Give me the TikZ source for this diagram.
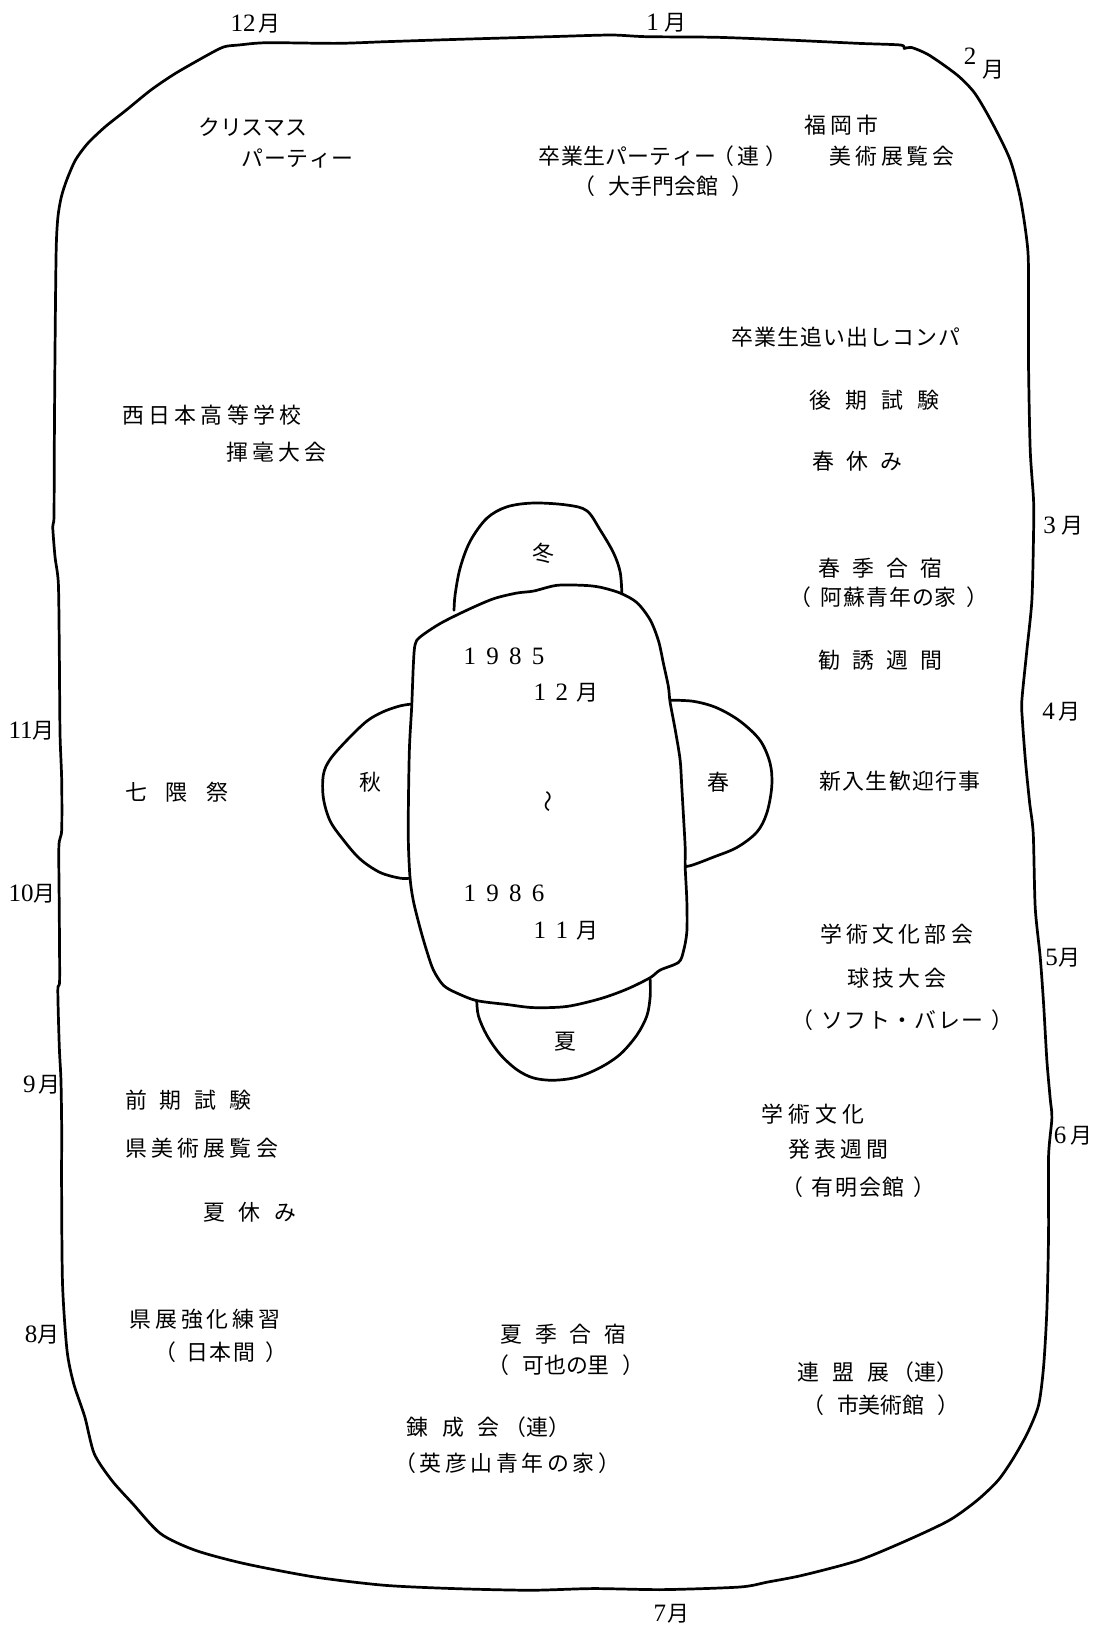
\documentclass[tikz,border=0pt]{standalone}
\usepackage{fontspec}
\setmainfont{Noto Sans CJK JP}
\newfontfamily\digfont{Liberation Serif}
\newdimen\lsgap
\def\ls#1{\lsfirst#1\relax}
\def\lsfirst#1{#1\lsnext}
\def\lsnext#1{\ifx#1\relax\else\hspace{\lsgap}#1\expandafter\lsnext\fi}
\newcommand\G[2]{{\lsgap=#1pt\relax\ls{#2}}}
\newcommand\PW[3]{（\hspace{#1pt}\G{#2}{#3}\hspace{#1pt}）}
\newcommand\D[1]{{\digfont\fontsize{24}{24}\selectfont #1}}
\newcommand\fs{\fontsize{21}{21}\selectfont}
\tikzset{
  lbl/.style={inner sep=0pt, anchor=west, text height=18.5pt, text depth=2.5pt, font=\fs},
  ctr/.style={inner sep=0pt, anchor=center, text height=18.5pt, text depth=2.5pt, font=\fs},
  outline/.style={line width=2.6pt, line join=round, line cap=round}
}
\begin{document}
\begin{tikzpicture}[x=1pt,y=-1pt]
\path[use as bounding box] (0,0) rectangle (1050,1568);

% outer boundary
\draw[outline] plot[smooth cycle, tension=0.45] coordinates {
(215.5,44.8)(229,43.2)(255.9,41)(323.3,41.6)(370.4,40)(437.8,37.8)(528,35.2)(586.1,33.6)(620,35.2)(687.9,35.8)(755.7,38.4)(823.5,41.6)(864.2,43.2)(867.6,46.5)(874.4,45.5)(891.4,52.8)(918.5,72)(935.5,89.6)(952.4,118.4)(969.4,153.6)(979.5,192)(986.3,240)(987,287.9)(987,351.9)(988.6,431.9)(991.8,479.9)(991.8,511.9)(990.2,575.8)(985.4,623.8)(980.6,671.8)(981,690)(984,730)(988,770)(991.5,800)(993.4,870.9)(998.2,918.6)(1001.4,962.7)(1004.6,1017.8)(1007.8,1054.6)(1009.4,1072.9)(1006.2,1109.6)(1006.2,1183.1)(1004.6,1256.6)(1001.4,1311.7)(996.6,1348.4)(986,1375)(972,1400)(957.8,1420.5)(937.7,1439.7)(910.9,1458.9)(870.7,1478)(823.9,1497.3)(770.3,1511.6)(736.8,1518.1)(710,1522.9)(636.3,1525.4)(569.3,1524.4)(509,1526)(435.4,1524.4)(368.4,1521.2)(301.4,1513.2)(234.4,1500.4)(187.5,1487.7)(154.1,1471.7)(127.3,1442.9)(107.2,1420.5)(90.4,1394.9)(81.4,1359.7)(70.7,1327.7)(64.3,1295.7)(60,1231.8)(59.1,1135.8)(59.2,1084.5)(58.5,1036.5)(56.9,1004.5)(55.5,950.2)(57.2,940.6)(56.9,876.6)(56.5,812.6)(59.2,796.6)(59.2,748.6)(57.6,703.8)(56.9,623.8)(56,559.9)(52.8,534.3)(50.6,505.5)(51.8,495.9)(52.1,431.9)(52.8,335.9)(53.9,240)(55.6,208)(58.9,188.8)(64,172.8)(72.4,153.6)(84.2,137.6)(101,121.6)(121.2,105.6)(144.8,86.4)(168.4,70.4)(202.1,51.2)};

% central body
\draw[outline] plot[smooth cycle, tension=0.5] coordinates {
(398.3,618.6)(403.1,611.3)(422.3,598.4)(447.9,585.6)(473.5,574.6)(495.9,569.1)(511.9,567.2)(534.3,561.7)(559.9,561.7)(575.9,563.5)(595.1,569.1)(611.1,578.2)(623.9,594.8)(631.9,615)(636.7,637)(641.4,659)(643,673.7)(647.8,699.5)(652.6,728.8)(654.2,754.5)(655.9,783.9)(657.5,813.3)(657.5,831.7)(659.1,864.7)(659.1,894.1)(655.9,912.5)(651.1,923.5)(633.4,930.9)(623.9,938.2)(601.5,949.2)(575.9,958.4)(543.9,965.8)(511.9,966.9)(486.3,963.9)(457.5,960.2)(438.3,952.9)(425.5,945.5)(415.9,930.9)(409.5,912.5)(403.1,890.5)(396.7,864.7)(393.5,842.7)(391.9,809.6)(391.9,772.9)(392.9,717.8)(395.1,677.4)(396.7,637)};

% winter lobe
\draw[outline] plot[smooth, tension=0.55] coordinates {
(435.7,585.6)(436.7,570.9)(441.5,545.2)(451.1,519.5)(467.1,497.4)(486.3,486.4)(511.9,482.7)(543.9,484.6)(563.1,490.1)(575.9,508.5)(588.7,530.5)(595.1,548.9)(596.7,569.1)};
% autumn lobe
\draw[outline] plot[smooth, tension=0.55] coordinates {
(395.1,675.6)(383.9,677.4)(367.9,682.9)(351.9,692.1)(332.7,710.5)(316.7,728.8)(310.3,743.5)(310.3,765.6)(316.7,787.6)(329.5,806)(345.5,824.3)(364.7,837.2)(383.9,842.7)(393.5,842.7)};
% spring lobe
\draw[outline] plot[smooth, tension=0.55] coordinates {
(643,671.9)(665.5,673)(687.8,679.2)(710.2,692.1)(729.4,710.5)(739,732.5)(740.6,754.5)(735.8,780.3)(726.2,798.6)(707,813.3)(684.6,822.5)(665.5,829.8)(657.5,831.7)};
% summer lobe
\draw[outline] plot[smooth, tension=0.55] coordinates {
(457.5,960.2)(459.1,974.9)(467.1,993.3)(479.9,1011.7)(495.9,1026.4)(511.9,1034.4)(531.1,1036.6)(553.5,1033.7)(575.9,1024.5)(595.1,1011.7)(611.1,993.3)(620.7,974.9)(623.9,956.5)(623.9,940)};

% season labels
\node[ctr] (winter) at (521.5,530.5) {冬};
\node[ctr] (autumn) at (355.1,750.9) {秋};
\node[ctr] (spring) at (689.4,750.9) {春};
\node[ctr] (summer) at (542.3,998.8) {夏};

% central period
\node[lbl] (y1985) at (444.7,629.7) {{\digfont\fontsize{24}{24}\selectfont\lsgap=9.8pt\relax\ls{1985}}};
\node[lbl] (dec) at (511.9,664.6) {\D{1}\hspace{9pt}\D{2}\hspace{8pt}月};
\node[ctr, rotate=90] (tilde) at (526.3,769.2) {〜};
\node[lbl] (y1986) at (444.7,857.4) {{\digfont\fontsize{24}{24}\selectfont\lsgap=9.8pt\relax\ls{1986}}};
\node[lbl] (nov) at (511.9,892.3) {\D{1}\hspace{9pt}\D{1}\hspace{8pt}月};

% month labels
\node[lbl] (m12) at (221,22) {\D{12}\hspace{3pt}月};
\node[lbl] (m1) at (620,21) {\D{1}\hspace{5pt}月};
\node[ctr] (m2a) at (931,54) {\D{2}};
\node[ctr] (m2b) at (953,66) {月};
\node[lbl] (m3) at (1001,504) {\D{3}\hspace{5pt}月};
\node[lbl] (m4) at (1000,682) {\D{4}\hspace{4pt}月};
\node[lbl] (m5) at (1003,918.6) {\D{5}\hspace{1pt}月};
\node[lbl] (m6) at (1011,1089.4) {\D{6}\hspace{4pt}月};
\node[lbl] (m7) at (627,1548) {\D{7}\hspace{1pt}月};
\node[lbl] (m8) at (23.6,1279.8) {\D{8}月};
\node[lbl] (m9) at (22,1040) {\D{9}\hspace{3pt}月};
\node[lbl] (m10) at (8,857) {\D{10}月};
\node[lbl] (m11) at (8,700.6) {\D{11}月};

% events
\node[lbl] (t01) at (190,122) {\G{0}{クリスマス}};
\node[lbl] (t02) at (232,152) {\G{0.5}{パーティー}};
\node[lbl] (t03) at (772,120) {\G{3.7}{福岡市}};
\node[lbl] (t04) at (796,150) {\G{3.7}{美術展覧会}};
\node[lbl] (t05) at (517,150) {\G{0.3}{卒業生パーティー}\hspace{-4pt}（\hspace{3pt}連\hspace{6pt}）};
\node[lbl] (t06) at (550,179) {\PW{13}{0}{大手門会館}};
\node[lbl] (t07) at (702,324) {\G{1}{卒業生追い出しコンパ}};
\node[lbl] (t08) at (777,384) {\G{13.3}{後期試験}};
\node[lbl] (t09) at (779,443) {\G{12}{春休み}};
\node[lbl] (t10) at (117,398) {\G{4.2}{西日本高等学校}};
\node[lbl] (t11) at (217.6,433.5) {\G{3.8}{揮毫大会}};
\node[lbl] (t12) at (785,545.5) {\G{11.8}{春季合宿}};
\node[lbl] (t13) at (757,573) {\PW{9}{1}{阿蘇青年の家}};
\node[lbl] (t14) at (785,633.4) {\G{11.8}{勧誘週間}};
\node[lbl] (t15) at (786,750) {\G{1.3}{新入生歓迎行事}};
\node[lbl] (t16) at (120,760) {\G{17.8}{七隈祭}};
\node[lbl] (t17) at (787,896.6) {\G{4.1}{学術文化部会}};
\node[lbl] (t18) at (812.6,938.8) {\G{3.8}{球技大会}};
\node[lbl] (t19) at (759,979) {\PW{8}{1.4}{ソフト・バレー}};
\node[lbl] (t20) at (731,1069) {\G{4.9}{学術文化}};
\node[lbl] (t21) at (756.6,1102.3) {\G{3.8}{発表週間}};
\node[lbl] (t22) at (750,1139) {\PW{8}{1.7}{有明会館}};
\node[lbl] (t23) at (764.6,1317) {連\hspace{13pt}盟\hspace{13pt}展\hspace{3pt}（連）};
\node[lbl] (t24) at (770,1348.4) {\PW{12}{0}{市美術館}};
\node[lbl] (t25) at (120,1055.8) {\G{12.3}{前期試験}};
\node[lbl] (t26) at (120,1102.2) {\G{4.1}{県美術展覧会}};
\node[lbl] (t27) at (195,1163) {\G{12.9}{夏休み}};
\node[lbl] (t28) at (124.3,1265.4) {\G{3.7}{県展強化練習}};
\node[lbl] (t29) at (148,1297.3) {\PW{10}{1.2}{日本間}};
\node[lbl] (t30) at (480,1279.8) {\G{12.3}{夏季合宿}};
\node[lbl] (t31) at (468,1310) {\PW{12}{0}{可也の里}};
\node[lbl] (t32) at (390,1369.4) {錬\hspace{13pt}成\hspace{13pt}会\hspace{5pt}（連）};
\node[lbl] (t33) at (378,1404) {\G{3.5}{（英彦山青年の家）}};
\end{tikzpicture}
\end{document}
